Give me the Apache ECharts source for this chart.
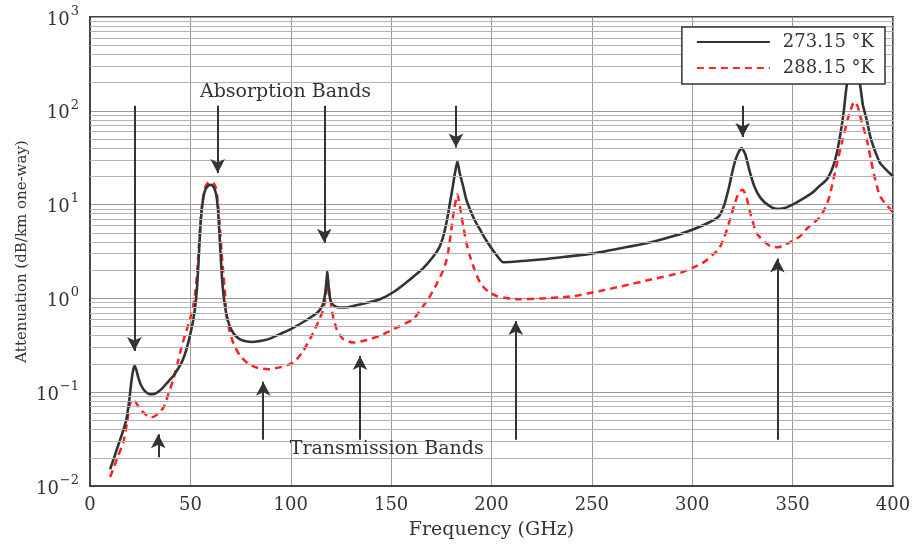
<!DOCTYPE html>
<html>
<head>
<meta charset="utf-8">
<script src="https://cdn.jsdelivr.net/npm/echarts@6/dist/echarts.min.js"></script>
<style>
  html, body { margin: 0; padding: 0; background: #fff; }
  #chart { width: 917px; height: 545px; }
</style>
</head>
<body>
<div id="chart"></div>
<script>
// Specific attenuation of the atmosphere, 0-400 GHz, at two temperatures.
var seriesNames = ['273.15 \u00b0K', '288.15 \u00b0K'];

// 273.15 K curve: [frequency GHz, attenuation dB/km]
var cold = [
  [10, 0.0151], [12, 0.02], [14, 0.027], [16, 0.036], [18, 0.05], [19.5, 0.08],
  [20.7, 0.135], [21.7, 0.18], [22.3, 0.19], [23, 0.175], [24, 0.145], [25.5, 0.118],
  [27.5, 0.102], [30, 0.095], [31, 0.095], [33, 0.098], [36, 0.11], [39, 0.13],
  [41.5, 0.149], [44, 0.18], [46, 0.215], [48, 0.285], [50, 0.42], [51.5, 0.6],
  [52.5, 0.85], [53.3, 1.3], [54, 2.3], [54.8, 5.0], [55.6, 8.5], [56.5, 12],
  [57.5, 14.5], [59, 16], [60, 16.3], [61, 16], [62, 14.8], [63, 12.3], [63.8, 8.5],
  [64.5, 4.8], [65.2, 2.6], [66, 1.4], [67, 0.9], [68.5, 0.6], [70.5, 0.46], [73, 0.39],
  [76, 0.355], [81, 0.343], [86, 0.355], [90, 0.375], [95, 0.42], [100, 0.47],
  [105, 0.54], [110, 0.63], [113, 0.7], [115, 0.78], [116.3, 0.9], [117.2, 1.15],
  [117.8, 1.55], [118.2, 1.94], [118.6, 1.55], [119.2, 1.12], [120, 0.93], [121.5, 0.84],
  [124, 0.8], [127, 0.8], [132, 0.84], [138, 0.9], [144.5, 0.98], [152, 1.2], [161, 1.7],
  [166, 2.1], [171, 2.8], [174, 3.5], [176, 4.6], [177.8, 6.8], [179.3, 10.4],
  [180.6, 15], [181.8, 21.7], [183, 29], [184.1, 22], [185.9, 15.6], [187.5, 11.2],
  [189.3, 8.85], [191.5, 6.9], [194.3, 5.4], [196.8, 4.35], [199.3, 3.6], [202.5, 2.9],
  [205.9, 2.43], [220, 2.55], [235, 2.75],
  [250, 3.0], [265, 3.45], [280, 4.0], [292, 4.7], [300, 5.4], [306, 6.1], [311, 6.9],
  [313.5, 7.6], [316, 10], [318.5, 16], [320.5, 25], [322.5, 34], [324.6, 40],
  [326.5, 34], [328.5, 23], [331, 15.5], [334, 11.8], [338, 9.8], [342, 9.0], [346, 9.2],
  [350, 10], [355, 11.5], [360, 13.5], [363, 15.5], [367, 18.5], [370, 25], [372, 35.5],
  [374, 60], [375.5, 100], [377, 190], [378.6, 250], [380.3, 270], [382, 250],
  [383.6, 190], [385, 115], [386.9, 80], [388.5, 55], [390.2, 41.7], [393.5, 27.8],
  [397, 23], [400, 20]
];

// 288.15 K curve
var warm = [
  [10, 0.0125], [12, 0.016], [14, 0.021], [16.6, 0.029], [18.5, 0.048], [19.9, 0.075],
  [21, 0.083], [21.8, 0.083], [23, 0.077], [24.5, 0.068], [26.6, 0.061], [28.5, 0.056],
  [30.7, 0.054], [33, 0.057], [36.5, 0.068], [39, 0.095], [41.5, 0.137], [43.5, 0.2],
  [45.7, 0.31], [48, 0.45], [50, 0.62], [51.5, 0.85], [52.5, 1.2], [53.3, 1.8], [54, 3.0],
  [54.8, 5.5], [55.6, 9], [56.5, 12.5], [57.5, 15.5], [59, 17.2], [60.5, 17.5],
  [61.5, 17], [62.5, 15.5], [63.3, 12.5], [64, 9], [64.8, 5.5], [65.5, 3.2], [66.4, 1.9],
  [67.3, 1.1], [68.1, 0.65], [69.5, 0.45], [71.5, 0.33], [74.7, 0.245], [79, 0.2],
  [83, 0.183], [88.8, 0.176], [95, 0.185], [101.3, 0.207], [106, 0.27], [111.2, 0.43],
  [114, 0.58], [116.2, 0.76], [117.3, 1.0], [118, 1.3], [118.5, 1.6], [119, 1.3],
  [119.8, 0.95], [121, 0.65], [122.9, 0.468], [126, 0.37], [131.2, 0.338], [138, 0.36],
  [144.5, 0.4], [152, 0.48], [161, 0.6], [165.5, 0.8], [169.4, 1.06], [172.5, 1.4],
  [175.5, 1.9], [177.7, 2.6], [179.1, 3.9], [180.2, 5.9], [181.5, 9.2], [183, 12.8],
  [184.4, 9.2], [185.9, 5.9], [187.5, 3.9], [189.3, 2.8], [191.8, 1.95], [194.3, 1.47],
  [196.8, 1.27], [199.3, 1.15], [202.5, 1.06], [205.9, 1.02], [214, 0.98], [225, 1.0],
  [240, 1.05], [254, 1.2], [265, 1.35], [280, 1.6],
  [294, 1.87], [300, 2.1], [306, 2.45], [310, 2.9], [313, 3.3], [316, 4.5], [318.8, 6.9],
  [321, 10], [323.2, 13.5], [325.1, 14.4], [327, 12], [329, 8], [332, 5.0], [336, 4.0],
  [339, 3.6], [342.5, 3.5], [347, 3.8], [353.7, 4.6], [358, 5.8], [364, 7.5], [368, 11.5],
  [372, 27], [375, 50], [377.7, 85], [380, 118], [381, 125], [382.5, 110], [384.5, 75],
  [386.9, 50], [389, 30], [391, 19], [393.5, 12.3], [397, 9.8], [400, 8.3]
];

// Arrows: [frequency, from attenuation, to attenuation]
var absorptionArrows = [
  [22.1, 113, 0.275], [63.6, 113, 21.7], [116.7, 113, 3.92],
  [182.3, 113, 40.7], [325.1, 113, 52.5]
];
var transmissionArrows = [
  [34.0, 0.0202, 0.0357], [86.3, 0.0311, 0.129], [134.5, 0.0311, 0.243],
  [212.1, 0.0311, 0.574], [342.4, 0.0311, 2.67]
];

// Band labels: [text, frequency, attenuation]
var bandLabels = [
  ['Absorption Bands', 97.4, 159],
  ['Transmission Bands', 147.8, 0.0248]
];

// Minor log grid: 2..9 within each decade
var decades = [0.01, 0.1, 1, 10, 100];
var minorSteps = [2, 3, 4, 5, 6, 7, 8, 9];

var FONT = 'DejaVu Serif';
var TEXT = '#333';

var minorLines = [];
decades.forEach(function (d) {
  minorSteps.forEach(function (m) { minorLines.push({ yAxis: +(d * m).toPrecision(3) }); });
});

var arrowLines = absorptionArrows.concat(transmissionArrows).map(function (a) {
  return [{ coord: [a[0], a[1]] }, { coord: [a[0], a[2]] }];
});

var superDigits = function (v) {
  var e = Math.round(Math.log10(v));
  return '{b|10}{e|' + (e < 0 ? '\u2212' + (-e) : e) + '}';
};

var option = {
  animation: false,
  backgroundColor: '#fff',
  grid: {
    left: 90, right: 24, top: 17, bottom: 58,
    show: true, borderColor: '#444', borderWidth: 2, backgroundColor: 'transparent'
  },
  legend: {
    data: seriesNames,
    orient: 'vertical',
    right: 32, top: 27,
    backgroundColor: '#fff',
    borderColor: '#333', borderWidth: 1.5, borderRadius: 0,
    padding: [5, 11, 6, 14],
    itemWidth: 73, itemHeight: 14, itemGap: 6,
    itemStyle: { opacity: 0 },
    textStyle: { fontFamily: FONT, fontSize: 18, color: TEXT, lineHeight: 20, padding: [0, 0, 0, 8] },
    z: 20
  },
  xAxis: {
    type: 'value', min: 0, max: 400, interval: 50,
    name: 'Frequency (GHz)', nameLocation: 'middle', nameGap: 35,
    nameTextStyle: { fontFamily: FONT, fontSize: 19, color: TEXT },
    axisLine: { show: true, lineStyle: { color: '#444', width: 2 } },
    axisTick: { show: false },
    axisLabel: { fontFamily: FONT, fontSize: 18, color: TEXT, margin: 10 },
    splitLine: { show: true, lineStyle: { color: '#9a9a9a', width: 1 } }
  },
  yAxis: {
    type: 'log', logBase: 10, min: 0.01, max: 1000,
    name: 'Attenuation (dB/km one-way)', nameLocation: 'middle', nameGap: 60,
    nameMoveOverlap: false,
    nameTextStyle: { fontFamily: FONT, fontSize: 15, color: TEXT },
    axisLine: { show: true, lineStyle: { color: '#444', width: 2 } },
    axisTick: { show: false },
    axisLabel: {
      margin: 11,
      formatter: superDigits,
      rich: {
        b: { fontFamily: FONT, fontSize: 18, color: TEXT, lineHeight: 24, verticalAlign: 'bottom', padding: [10, 0, 0, 0] },
        e: { fontFamily: FONT, fontSize: 13, color: TEXT, lineHeight: 24, verticalAlign: 'top', padding: [0, 0, 0, 1] }
      }
    },
    splitLine: { show: true, lineStyle: { color: '#9a9a9a', width: 1 } }
  },
  series: [
    {
      name: 'minor-grid', type: 'line', data: [], silent: true, z: 1,
      markLine: {
        silent: true, symbol: ['none', 'none'], animation: false,
        label: { show: false },
        lineStyle: { color: '#b4b4b4', width: 1, type: 'solid' },
        data: minorLines
      }
    },
    {
      name: seriesNames[0], type: 'line', data: cold, z: 4,
      showSymbol: false, symbol: 'none', smooth: 0.2,
      lineStyle: { color: '#333', width: 2.6 },
      itemStyle: { color: '#333' }
    },
    {
      name: seriesNames[1], type: 'line', data: warm, z: 3,
      showSymbol: false, symbol: 'none', smooth: 0.2,
      lineStyle: { color: '#ff2222', width: 2.5, type: [7, 5] },
      itemStyle: { color: '#ff2222' }
    },
    {
      name: 'bands', type: 'line', data: [], silent: true, z: 5,
      markLine: {
        silent: true, animation: false,
        symbol: ['none', 'arrow'], symbolSize: [11, 14],
        label: { show: false },
        lineStyle: { color: '#333', width: 2, type: 'solid' },
        data: arrowLines
      },
      markPoint: {
        silent: true, animation: false,
        symbol: 'circle', symbolSize: 0,
        label: {
          show: true, position: 'inside', formatter: '{b}',
          fontFamily: FONT, fontSize: 19, color: TEXT
        },
        data: bandLabels.map(function (t) { return { name: t[0], coord: [t[1], t[2]] }; })
      }
    }
  ]
};

var chart = echarts.init(document.getElementById('chart'), null, { renderer: 'canvas' });
chart.setOption(option);
</script>
</body>
</html>
